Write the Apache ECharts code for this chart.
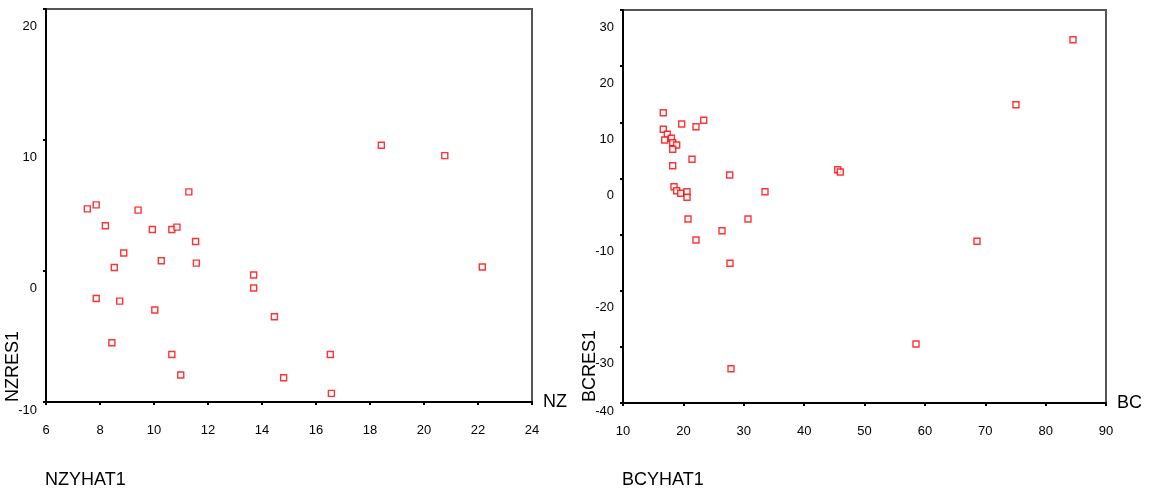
<!DOCTYPE html>
<html>
<head>
<meta charset="utf-8">
<script src="https://cdn.jsdelivr.net/npm/echarts@6/dist/echarts.min.js"></script>
<style>
html,body{margin:0;padding:0;background:#fff;}
#c{width:1152px;height:492px;}
</style>
</head>
<body>
<div id="c"></div>
<script>
// Left panel: NZ residuals vs fitted
var nzFitted = [7.53, 7.86, 8.20, 8.88, 8.53, 7.86, 8.73, 8.44, 9.41, 9.94, 10.27, 10.03, 10.66, 10.85,
  11.29, 11.54, 11.57, 10.66, 10.99, 13.69, 13.69, 14.46, 14.80, 16.53, 16.57, 18.42, 20.77, 22.16];
var nzResid = [4.74, 5.05, 3.45, 1.37, 0.27, -2.10, -2.30, -5.48, 4.65, 3.17, 0.78, -2.98, 3.17, 3.35,
  6.04, 2.25, 0.60, -6.37, -7.94, -0.31, -1.30, -3.49, -8.15, -6.37, -9.34, 9.60, 8.81, 0.30];
var nzXTicks = [6, 8, 10, 12, 14, 16, 18, 20, 22, 24];
var nzYTicks = [-10, 0, 10, 20];

// Right panel: BC residuals vs fitted
var bcFitted = [16.67, 16.67, 17.34, 16.91, 18.00, 18.23, 18.89, 18.23, 19.72, 22.09, 23.37, 21.43,
  18.23, 27.67, 18.45, 18.89, 19.56, 20.60, 20.60, 33.52, 20.77, 30.70, 26.40, 22.09, 45.56, 45.99,
  27.72, 27.89, 84.53, 75.09, 68.63, 58.53];
var bcResid = [11.71, 8.75, 7.86, 6.84, 7.15, 6.36, 5.95, 5.19, 9.69, 9.21, 10.35, 3.41,
  2.27, 0.61, -1.47, -2.19, -2.65, -2.37, -3.36, -2.37, -7.23, -7.23, -9.31, -10.97, 1.55, 1.14,
  -15.12, -33.89, 24.71, 13.13, -11.20, -29.49];
var bcXTicks = [10, 20, 30, 40, 50, 60, 70, 80, 90];
var bcYTicks = [-40, -30, -20, -10, 0, 10, 20, 30];

function pairs(xs, ys){ return xs.map(function(x,i){ return [x, ys[i]]; }); }

var FONT = 'Liberation Sans, Arial, sans-serif';

function xAxisDef(idx, ticks, name){
  return {
    type:'value', gridIndex:idx, min:ticks[0], max:ticks[ticks.length-1], interval:ticks[1]-ticks[0],
    name:name, nameLocation:'end', nameGap:11,
    nameTextStyle:{fontFamily:FONT, fontSize:18, color:'#000'},
    axisLine:{show:true, onZero:false, lineStyle:{color:'#000', width:2}},
    axisTick:{show:true, length:3, lineStyle:{color:'#000', width:2}},
    axisLabel:{fontFamily:FONT, fontSize:13, color:'#000', margin:22, showMinLabel:true, showMaxLabel:true},
    splitLine:{show:false}
  };
}
function yAxisDef(idx, ticks){
  var mn = ticks[0];
  return {
    type:'value', gridIndex:idx, min:mn, max:ticks[ticks.length-1], interval:ticks[1]-ticks[0],
    axisLine:{show:true, onZero:false, lineStyle:{color:'#000', width:2}},
    axisTick:{show:true, length:3, lineStyle:{color:'#000', width:2}},
    axisLabel:{fontFamily:FONT, fontSize:13, color:'#000', margin:9, showMinLabel:true, showMaxLabel:true,
      formatter:function(v){ return (v === mn ? '{b|' : '{a|') + v + '}'; },
      rich:{
        a:{fontFamily:FONT, fontSize:13, color:'#000', padding:[34,0,0,0]},
        b:{fontFamily:FONT, fontSize:13, color:'#000', padding:[16,0,0,0]}
      }
    },
    splitLine:{show:false}
  };
}

var chart = echarts.init(document.getElementById('c'), null, {renderer:'canvas'});
chart.setOption({
  animation:false,
  backgroundColor:'#fff',
  title:[
    {text:'NZYHAT1', left:45, top:471, textStyle:{fontFamily:FONT, fontSize:18, fontWeight:'normal', color:'#000'}, padding:0},
    {text:'BCYHAT1', left:622, top:471, textStyle:{fontFamily:FONT, fontSize:18, fontWeight:'normal', color:'#000'}, padding:0}
  ],
  grid:[
    {left:46, right:620, top:9, bottom:90, show:true, borderColor:'#555', borderWidth:2, backgroundColor:'#fff'},
    {left:623, right:46, top:10, bottom:89, show:true, borderColor:'#555', borderWidth:2, backgroundColor:'#fff'}
  ],
  xAxis:[ xAxisDef(0, nzXTicks, 'NZ'), xAxisDef(1, bcXTicks, 'BC') ],
  yAxis:[ yAxisDef(0, nzYTicks), yAxisDef(1, bcYTicks) ],
  graphic:[
    {type:'text', x:22, y:402, rotation:Math.PI/2, z:100,
      style:{text:'NZRES1', fontFamily:FONT, fontSize:18, fill:'#000', textAlign:'left', textVerticalAlign:'bottom'}},
    {type:'text', x:599, y:402, rotation:Math.PI/2, z:100,
      style:{text:'BCRES1', fontFamily:FONT, fontSize:18, fill:'#000', textAlign:'left', textVerticalAlign:'bottom'}}
  ],
  series:[
    {type:'scatter', xAxisIndex:0, yAxisIndex:0, data:pairs(nzFitted, nzResid), symbol:'rect', symbolSize:6,
      itemStyle:{color:'#fff', borderColor:'#ff0000', borderWidth:1.4}},
    {type:'scatter', xAxisIndex:1, yAxisIndex:1, data:pairs(bcFitted, bcResid), symbol:'rect', symbolSize:6,
      itemStyle:{color:'#fff', borderColor:'#ff0000', borderWidth:1.4}}
  ]
});
</script>
</body>
</html>
